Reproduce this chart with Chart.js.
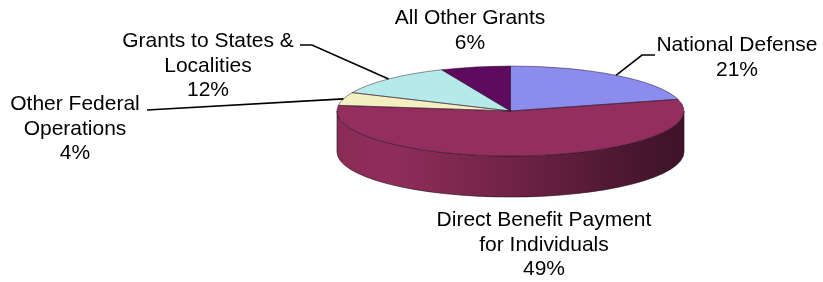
<!DOCTYPE html>
<html>
<head>
<meta charset="utf-8">
<script src="https://cdn.jsdelivr.net/npm/chart.js@4.4.1/dist/chart.umd.min.js"></script>
<style>
  html, body { margin: 0; padding: 0; background: #fff; }
  #wrap { width: 823px; height: 282px; }
</style>
</head>
<body>
<div id="wrap"><canvas id="pie" width="823" height="282"></canvas></div>
<script>
  // slice data, clockwise from 12 o'clock
  const categories = [
    ['National Defense'],
    ['Direct Benefit Payment', 'for Individuals'],
    ['Other Federal', 'Operations'],
    ['Grants to States &', 'Localities'],
    ['All Other Grants']
  ];
  const shares = [20.8, 56.2, 4.7, 11.8, 6.5];     // angle share as drawn
  const pctLabels = ['21%', '49%', '4%', '12%', '6%'];
  const colors = ['#8c8cee', '#932e5e', '#f3efc0', '#b6eaea', '#5e0a5e'];

  // 3D ellipse geometry + label placement (layout only)
  const PIE = { cx: 510.5, cy: 111, rx: 173.5, ry: 45, depth: 41 };
  const LABEL_POS = [
    { x: 737, y: 51, line: [[642, 55], [655, 55]] },
    { x: 544, y: 226 },
    { x: 75, y: 110, line: [[147, 110]] },
    { x: 208, y: 47, line: [[312, 45], [300, 45]] },
    { x: 470, y: 24 }
  ];
  const FONT = '21px "Liberation Sans", Arial, sans-serif';
  const LINE_H = 24.5;

  function shade(hex, f) {
    const n = parseInt(hex.slice(1), 16);
    const r = Math.round(((n >> 16) & 255) * f), g = Math.round(((n >> 8) & 255) * f), b = Math.round((n & 255) * f);
    return `rgb(${r},${g},${b})`;
  }

  const pie3d = {
    id: 'pie3d',
    beforeDatasetsDraw(chart) {
      const ctx = chart.ctx;
      const arcs = chart.getDatasetMeta(0).data;
      const { cx, cy, rx, ry, depth } = PIE;
      // side wall, only the front half (0..PI) is visible
      arcs.forEach((a, i) => {
        const s = Math.max(a.startAngle, 0), e = Math.min(a.endAngle, Math.PI);
        if (e <= s) return;
        const col = colors[i];
        const g = ctx.createLinearGradient(cx - rx, 0, cx + rx, 0);
        g.addColorStop(0, shade(col, 0.93));
        g.addColorStop(0.15, shade(col, 0.98));
        g.addColorStop(0.5, shade(col, 0.76));
        g.addColorStop(0.85, shade(col, 0.5));
        g.addColorStop(1, shade(col, 0.42));
        ctx.save();
        ctx.beginPath();
        ctx.ellipse(cx, cy, rx, ry, 0, s, e);
        ctx.ellipse(cx, cy + depth, rx, ry, 0, e, s, true);
        ctx.closePath();
        ctx.fillStyle = g;
        ctx.fill();
        ctx.strokeStyle = 'rgba(30,10,20,0.75)';
        ctx.lineWidth = 0.8;
        ctx.stroke();
        ctx.restore();
      });
      // squash the circular pie into the top ellipse
      const a0 = arcs[0];
      ctx.save();
      ctx.translate(cx, cy);
      ctx.scale(rx / a0.outerRadius, ry / a0.outerRadius);
      ctx.translate(-a0.x, -a0.y);
    },
    afterDatasetsDraw(chart) {
      const ctx = chart.ctx;
      ctx.restore();
      const { cx, cy, rx, ry } = PIE;
      const arcs = chart.getDatasetMeta(0).data;
      ctx.save();
      ctx.strokeStyle = 'rgba(40,20,40,0.6)';
      ctx.lineWidth = 0.8;
      arcs.forEach(a => {
        ctx.beginPath();
        ctx.moveTo(cx, cy);
        ctx.ellipse(cx, cy, rx, ry, 0, a.startAngle, a.endAngle);
        ctx.closePath();
        ctx.stroke();
      });
      // labels and leader lines
      ctx.font = FONT;
      ctx.fillStyle = '#000';
      ctx.textAlign = 'center';
      ctx.textBaseline = 'alphabetic';
      ctx.strokeStyle = '#000';
      ctx.lineWidth = 1.6;
      arcs.forEach((a, i) => {
        const lp = LABEL_POS[i];
        if (lp.line) {
          const mid = (a.startAngle + a.endAngle) / 2;
          ctx.beginPath();
          ctx.moveTo(cx + rx * Math.cos(mid), cy + ry * Math.sin(mid));
          lp.line.forEach(p => ctx.lineTo(p[0], p[1]));
          ctx.stroke();
        }
        const lines = categories[i].concat(pctLabels[i]);
        lines.forEach((t, k) => ctx.fillText(t, lp.x, lp.y + k * LINE_H));
      });
      ctx.restore();
    }
  };

  new Chart(document.getElementById('pie'), {
    type: 'pie',
    data: {
      labels: categories.map(c => c.join(' ')),
      datasets: [{
        data: shares,
        backgroundColor: colors,
        borderWidth: 0,
        clip: false
      }]
    },
    options: {
      responsive: false,
      animation: false,
      events: [],
      layout: { padding: { left: 420.5, right: 222.5, top: 21, bottom: 81 } },
      plugins: { legend: { display: false }, tooltip: { enabled: false } }
    },
    plugins: [pie3d]
  });
</script>
</body>
</html>
